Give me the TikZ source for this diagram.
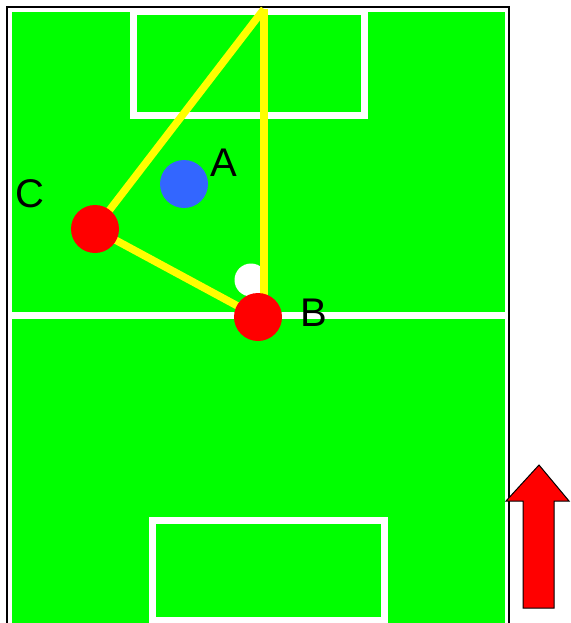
\documentclass[tikz,border=0pt]{standalone}
\usepackage{fontspec}
\setmainfont{Liberation Sans}
\usepackage{xcolor}
\definecolor{pitch}{RGB}{0,255,0}
\definecolor{teamblue}{RGB}{51,102,255}
\definecolor{passline}{RGB}{255,255,0}

\begin{document}
\begin{tikzpicture}[
        x=1pt, y=-1pt,
        marking/.style={draw=white, line width=7pt},
        player/.style={circle, inner sep=0pt, minimum size=48pt},
        pass/.style={draw=passline, line width=7.5pt},
        lbl/.style={inner sep=0pt, font=\fontsize{40}{40}\selectfont}
    ]
        \useasboundingbox (0,0) rectangle (570,623);
        \clip (0,0) rectangle (570,623);
        \fill[white] (0,0) rectangle (570,623);
        % field
        \draw[black, line width=2pt] (7,7) rectangle (509,640);
        \fill[pitch] (12,12) rectangle (505,640);
        \draw[marking] (133.5,11.5) rectangle (364.5,115.5);
        \draw[marking] (152.5,520) rectangle (384.5,620.5);
        \draw[marking] (12,315.5) -- (505,315.5);
        % positions
        \coordinate (top) at (264,9);
        \coordinate (posC) at (95,229);
        \coordinate (posB) at (258,317);
        \node[player, fill=white, minimum size=33pt] (ball) at (251,280) {};
        % passes
        \draw[pass] (top) -- (posC);
        \draw[pass] (top) -- (top |- posB);
        \draw[pass] (posC) -- (posB);
        % players
        \node[player, fill=teamblue] (A) at (184,184) {};
        \node[player, fill=red] (B) at (posB) {};
        \node[player, fill=red] (C) at (posC) {};
        \node[lbl] (labA) at (223.5,162.5) {A};
        \node[lbl] (labB) at (313.5,312.5) {B};
        \node[lbl] (labC) at (29.5,194) {C};
        % direction of play
        \draw[black, fill=red, line width=1pt] (539,465) -- (569,501) -- (554,501) -- (554,608)
            -- (523,608) -- (523,501) -- (506,501) -- cycle;
    \end{tikzpicture}
\end{document}
